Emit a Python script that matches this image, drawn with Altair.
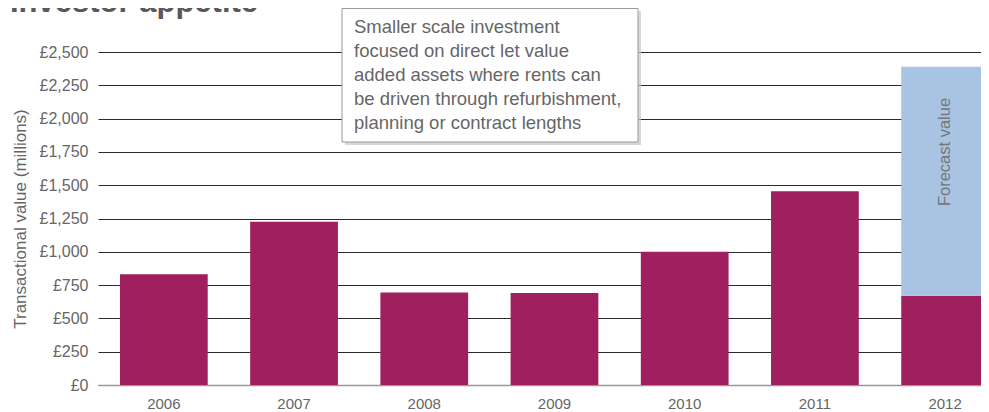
import altair as alt
import pandas as pd

years = ["2006", "2007", "2008", "2009", "2010", "2011", "2012"]
actual = [832, 1225, 695, 690, 1000, 1455, 670]
forecast_total = [None, None, None, None, None, None, 2390]
y_ticks = [0, 250, 500, 750, 1000, 1250, 1500, 1750, 2000, 2250, 2500]
title_text = "Investor appetite"
y_title = "Transactional value (millions)"
note_lines = [
    "Smaller scale investment",
    "focused on direct let value",
    "added assets where rents can",
    "be driven through refurbishment,",
    "planning or contract lengths",
]
forecast_label = "Forecast value"

FONT = "Liberation Sans"
MAROON = "#A01F5E"
BLUE = "#A9C4E2"

df = pd.DataFrame({"year": years, "actual": actual, "total": forecast_total})
fc = df.dropna(subset=["total"])

x_scale = alt.Scale(domain=years, range=[0, 891], paddingInner=0.326,
                    paddingOuter=0.0843, align=1)
y_scale = alt.Scale(domain=[0, 2500])

x_axis = alt.Axis(
    title=None, labelAngle=0, ticks=False, domain=True, domainColor="#999999",
    domainWidth=1.5, labelPadding=11, labelFontSize=15, labelColor="#666666",
    labelFont=FONT, grid=False,
)
y_axis = alt.Axis(
    values=y_ticks, title=y_title, titleFont=FONT, titleFontSize=17,
    titleFontWeight="normal", titleColor="#666666", titlePadding=10,
    labelExpr="'£' + format(datum.value, ',')", labelFont=FONT,
    labelFontSize=16, labelColor="#666666", labelPadding=10,
    ticks=False, domain=False, grid=True, gridColor="#2a2a2a", gridWidth=1,
    labelOverlap=False,
)

x_enc = alt.X("year:N", scale=x_scale, sort=years, axis=x_axis)

bars = alt.Chart(df).mark_bar(color=MAROON).encode(
    x=x_enc,
    y=alt.Y("actual:Q", scale=y_scale, axis=y_axis),
)

fbar = alt.Chart(fc).mark_bar(color=BLUE).encode(
    x=x_enc,
    y=alt.Y("actual:Q", scale=y_scale, axis=y_axis),
    y2="total:Q",
)

flabel = alt.Chart(fc).mark_text(
    text=forecast_label, angle=270, font=FONT, fontSize=16.5, color="#777777",
    baseline="middle", align="center",
).encode(
    x=x_enc,
    y=alt.value(100),
)

one = alt.Data(values=[{"k": 1}])

shadow = alt.Chart(one).mark_rect(fill="#c8c8c8", opacity=0.7).encode(
    x=alt.value(247), x2=alt.value(543), y=alt.value(-41), y2=alt.value(93)
)
box = alt.Chart(one).mark_rect(fill="white", stroke="#999999", strokeWidth=1).encode(
    x=alt.value(244), x2=alt.value(540), y=alt.value(-43.5), y2=alt.value(90)
)
note = alt.Chart(one).mark_text(
    text=note_lines, align="left", baseline="middle", font=FONT, fontSize=18.5,
    lineHeight=24, color="#666666",
).encode(x=alt.value(256), y=alt.value(-25))

title = alt.Chart(one).mark_text(
    text=title_text, align="left", baseline="alphabetic", font=FONT, fontSize=31,
    fontWeight="bold", color="#595959",
).encode(x=alt.value(-88), y=alt.value(-40))

chart = alt.layer(bars, fbar, flabel, shadow, box, note, title).properties(
    width=883,
    height=333,
    padding={"left": 90, "top": 44, "right": 0, "bottom": 27},
    autosize=alt.AutoSizeParams(type="none"),
).configure(background="white").configure_view(stroke=None)

chart.save("out.html", embed_options={"renderer": "svg", "actions": False})
